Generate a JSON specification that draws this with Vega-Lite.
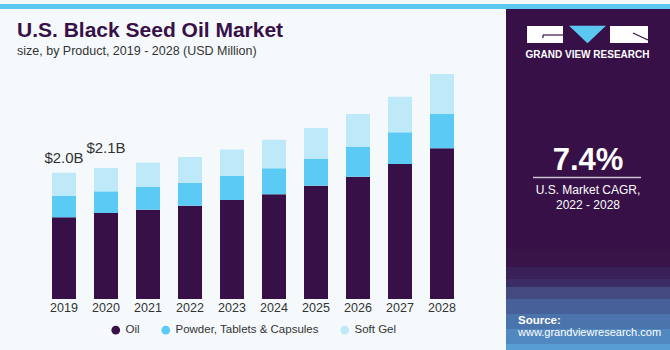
{
  "$schema": "https://vega.github.io/schema/vega-lite/v6.json",
  "background": "#f5f9fc",
  "padding": 0,
  "autosize": {"type": "pad"},
  "bounds": "flush",
  "spacing": 0,
  "resolve": {"scale": {"color": "independent"}, "legend": {"color": "independent"}},
  "config": {"view": {"stroke": null}, "font": "Liberation Sans", "legend": {"layout": {"bottom": {"anchor": "middle"}}}},
  "datasets": {
    "market": [
      {"year": "2019", "product": "Oil", "value": 1293},
      {"year": "2019", "product": "Powder, Tablets & Capsules", "value": 337},
      {"year": "2019", "product": "Soft Gel", "value": 369},
      {"year": "2020", "product": "Oil", "value": 1361},
      {"year": "2020", "product": "Powder, Tablets & Capsules", "value": 343},
      {"year": "2020", "product": "Soft Gel", "value": 369},
      {"year": "2021", "product": "Oil", "value": 1414},
      {"year": "2021", "product": "Powder, Tablets & Capsules", "value": 364},
      {"year": "2021", "product": "Soft Gel", "value": 380},
      {"year": "2022", "product": "Oil", "value": 1477},
      {"year": "2022", "product": "Powder, Tablets & Capsules", "value": 364},
      {"year": "2022", "product": "Soft Gel", "value": 407},
      {"year": "2023", "product": "Oil", "value": 1567},
      {"year": "2023", "product": "Powder, Tablets & Capsules", "value": 385},
      {"year": "2023", "product": "Soft Gel", "value": 412},
      {"year": "2024", "product": "Oil", "value": 1657},
      {"year": "2024", "product": "Powder, Tablets & Capsules", "value": 412},
      {"year": "2024", "product": "Soft Gel", "value": 453},
      {"year": "2025", "product": "Oil", "value": 1794},
      {"year": "2025", "product": "Powder, Tablets & Capsules", "value": 427},
      {"year": "2025", "product": "Soft Gel", "value": 486},
      {"year": "2026", "product": "Oil", "value": 1936},
      {"year": "2026", "product": "Powder, Tablets & Capsules", "value": 475},
      {"year": "2026", "product": "Soft Gel", "value": 518},
      {"year": "2027", "product": "Oil", "value": 2137},
      {"year": "2027", "product": "Powder, Tablets & Capsules", "value": 502},
      {"year": "2027", "product": "Soft Gel", "value": 564},
      {"year": "2028", "product": "Oil", "value": 2386},
      {"year": "2028", "product": "Powder, Tablets & Capsules", "value": 543},
      {"year": "2028", "product": "Soft Gel", "value": 633}
    ],
    "totals": [
      {"year": "2019", "total": 1999, "label": "$2.0B"},
      {"year": "2020", "total": 2073, "label": "$2.1B"}
    ]
  },
  "vconcat": [
    {
      "width": 670,
      "height": 5,
      "view": {"fill": "#5bc8f2", "stroke": null},
      "data": {"values": [{}]},
      "mark": {"type": "text", "text": ""},
      "encoding": {}
    },
    {
      "resolve": {"scale": {"color": "independent"}, "legend": {"color": "independent"}},
      "hconcat": [
        {
          "width": 17,
          "height": 5,
          "data": {"values": [{}]},
          "mark": {"type": "text", "text": ""},
          "encoding": {}
        },
        {
          "width": 472,
          "height": 290,
          "title": {
            "text": "U.S. Black Seed Oil Market",
            "subtitle": "size, by Product, 2019 - 2028 (USD Million)",
            "anchor": "start",
            "frame": "group",
            "offset": -48,
            "font": "Liberation Sans",
            "fontSize": 21,
            "fontWeight": "bold",
            "color": "#371047",
            "subtitleFont": "Liberation Sans",
            "subtitleFontSize": 12.5,
            "subtitleColor": "#333333",
            "subtitlePadding": 4
          },
          "layer": [
            {
              "data": {"name": "market"},
              "mark": {"type": "bar"},
              "encoding": {
                "x": {
                  "field": "year", "type": "ordinal",
                  "scale": {"paddingInner": 0.4286, "paddingOuter": 0.8333},
                  "axis": {"title": null, "labelAngle": 0, "domain": false, "ticks": false, "labelFontSize": 12.5, "labelColor": "#333333", "labelPadding": 2, "labelFont": "Liberation Sans"}
                },
                "y": {
                  "field": "value", "type": "quantitative", "stack": "zero",
                  "scale": {"domain": [0, 4590], "nice": false},
                  "axis": null
                },
                "order": {"field": "product", "type": "nominal", "sort": "ascending"},
                "color": {
                  "field": "product", "type": "nominal",
                  "scale": {"domain": ["Oil", "Powder, Tablets & Capsules", "Soft Gel"], "range": ["#371047", "#5bcbf5", "#bde9f9"]},
                  "legend": {"title": null, "orient": "bottom", "direction": "horizontal", "symbolType": "circle", "symbolSize": 75, "symbolStrokeWidth": 0, "labelFontSize": 11.5, "labelColor": "#333333", "labelFont": "Liberation Sans", "columnPadding": 20, "offset": 10}
                }
              }
            },
            {
              "data": {"name": "totals"},
              "transform": [{"filter": "datum.year == '2019'"}],
              "mark": {"type": "text", "baseline": "alphabetic", "dy": -10, "fontSize": 15, "color": "#333333", "font": "Liberation Sans"},
              "encoding": {
                "x": {"field": "year", "type": "ordinal"},
                "y": {"field": "total", "type": "quantitative"},
                "text": {"field": "label"}
              }
            },
            {
              "data": {"name": "totals"},
              "transform": [{"filter": "datum.year == '2020'"}],
              "mark": {"type": "text", "baseline": "alphabetic", "dy": -15, "fontSize": 15, "color": "#333333", "font": "Liberation Sans"},
              "encoding": {
                "x": {"field": "year", "type": "ordinal"},
                "y": {"field": "total", "type": "quantitative"},
                "text": {"field": "label"}
              }
            }
          ]
        },
        {
          "width": 17,
          "height": 5,
          "data": {"values": [{}]},
          "mark": {"type": "text", "text": ""},
          "encoding": {}
        },
        {
          "width": 164,
          "height": 345,
          "view": {"fill": "#371047", "stroke": null},
          "data": {"values": [{}]},
          "layer": [
            {
              "mark": {"type": "rect", "color": "#381448", "opacity": 1},
              "encoding": {
                "x": {"datum": 0, "type": "quantitative", "scale": {"domain": [0, 164], "nice": false, "zero": false}, "axis": null},
                "x2": {"datum": 164},
                "y": {"datum": 240, "type": "quantitative", "scale": {"domain": [0, 345], "nice": false, "zero": false, "reverse": true}, "axis": null},
                "y2": {"datum": 258}
              }
            },
            {
              "mark": {"type": "rect", "color": "#3a2058", "opacity": 1},
              "encoding": {"x": {"datum": 0, "type": "quantitative"}, "x2": {"datum": 164}, "y": {"datum": 258, "type": "quantitative"}, "y2": {"datum": 270}}
            },
            {
              "mark": {"type": "rect", "color": "#3c2c66", "opacity": 1},
              "encoding": {"x": {"datum": 0, "type": "quantitative"}, "x2": {"datum": 164}, "y": {"datum": 270, "type": "quantitative"}, "y2": {"datum": 278}}
            },
            {
              "mark": {"type": "rect", "color": "#424a80", "opacity": 1},
              "encoding": {"x": {"datum": 0, "type": "quantitative"}, "x2": {"datum": 164}, "y": {"datum": 278, "type": "quantitative"}, "y2": {"datum": 290}}
            },
            {
              "mark": {"type": "rect", "color": "#47609a", "opacity": 1},
              "encoding": {"x": {"datum": 0, "type": "quantitative"}, "x2": {"datum": 164}, "y": {"datum": 290, "type": "quantitative"}, "y2": {"datum": 305}}
            },
            {
              "mark": {"type": "rect", "color": "#4c74ac", "opacity": 1},
              "encoding": {"x": {"datum": 0, "type": "quantitative"}, "x2": {"datum": 164}, "y": {"datum": 305, "type": "quantitative"}, "y2": {"datum": 320}}
            },
            {
              "mark": {"type": "rect", "color": "#5288c0", "opacity": 1},
              "encoding": {"x": {"datum": 0, "type": "quantitative"}, "x2": {"datum": 164}, "y": {"datum": 320, "type": "quantitative"}, "y2": {"datum": 335}}
            },
            {
              "mark": {"type": "rect", "color": "#589dd4", "opacity": 1},
              "encoding": {"x": {"datum": 0, "type": "quantitative"}, "x2": {"datum": 164}, "y": {"datum": 335, "type": "quantitative"}, "y2": {"datum": 345}}
            },
            {
              "mark": {"type": "rect", "color": "#ffffff"},
              "encoding": {
                "x": {"datum": 21, "type": "quantitative"}, "x2": {"datum": 57},
                "y": {"datum": 17, "type": "quantitative"}, "y2": {"datum": 34}
              }
            },
            {
              "mark": {"type": "rect", "color": "#ffffff"},
              "encoding": {
                "x": {"datum": 104, "type": "quantitative"}, "x2": {"datum": 142},
                "y": {"datum": 17, "type": "quantitative"}, "y2": {"datum": 34}
              }
            },
            {
              "mark": {"type": "point", "shape": "M-1,-0.47L1,-0.47L0,0.47Z", "filled": true, "color": "#5bc8f2", "opacity": 1, "size": 1369},
              "encoding": {
                "x": {"datum": 81.5, "type": "quantitative"},
                "y": {"datum": 25.5, "type": "quantitative"}
              }
            },
            {
              "mark": {"type": "rule", "color": "#371047", "strokeWidth": 1.2},
              "encoding": {
                "x": {"datum": 37, "type": "quantitative"}, "x2": {"datum": 57},
                "y": {"datum": 26, "type": "quantitative"}, "y2": {"datum": 26}
              }
            },
            {
              "mark": {"type": "rule", "color": "#371047", "strokeWidth": 1.2},
              "encoding": {
                "x": {"datum": 37, "type": "quantitative"}, "x2": {"datum": 37},
                "y": {"datum": 26, "type": "quantitative"}, "y2": {"datum": 29}
              }
            },
            {
              "mark": {"type": "rule", "color": "#371047", "strokeWidth": 1.2},
              "encoding": {
                "x": {"datum": 127, "type": "quantitative"}, "x2": {"datum": 142},
                "y": {"datum": 24, "type": "quantitative"}, "y2": {"datum": 31}
              }
            },
            {
              "mark": {"type": "text", "text": "GRAND VIEW RESEARCH", "color": "#ffffff", "fontSize": 10, "fontWeight": "bold", "baseline": "middle", "align": "center", "font": "Liberation Sans"},
              "encoding": {
                "x": {"datum": 81.5, "type": "quantitative"},
                "y": {"datum": 46, "type": "quantitative"}
              }
            },
            {
              "mark": {"type": "text", "text": "7.4%", "color": "#ffffff", "fontSize": 31, "fontWeight": "bold", "baseline": "alphabetic", "align": "center", "font": "Liberation Sans"},
              "encoding": {
                "x": {"datum": 82, "type": "quantitative"},
                "y": {"datum": 161, "type": "quantitative"}
              }
            },
            {
              "mark": {"type": "rule", "color": "#c9c2d2", "strokeWidth": 1.5},
              "encoding": {
                "x": {"datum": 27, "type": "quantitative"}, "x2": {"datum": 135},
                "y": {"datum": 168.5, "type": "quantitative"}, "y2": {"datum": 168.5}
              }
            },
            {
              "mark": {"type": "text", "text": "U.S. Market CAGR,", "color": "#ffffff", "fontSize": 12, "baseline": "alphabetic", "align": "center", "font": "Liberation Sans"},
              "encoding": {
                "x": {"datum": 82, "type": "quantitative"},
                "y": {"datum": 184.5, "type": "quantitative"}
              }
            },
            {
              "mark": {"type": "text", "text": "2022 - 2028", "color": "#ffffff", "fontSize": 12, "baseline": "alphabetic", "align": "center", "font": "Liberation Sans"},
              "encoding": {
                "x": {"datum": 82, "type": "quantitative"},
                "y": {"datum": 199.5, "type": "quantitative"}
              }
            },
            {
              "mark": {"type": "text", "text": "Source:", "color": "#ffffff", "fontSize": 11.5, "fontWeight": "bold", "baseline": "alphabetic", "align": "left", "font": "Liberation Sans"},
              "encoding": {
                "x": {"datum": 12, "type": "quantitative"},
                "y": {"datum": 315, "type": "quantitative"}
              }
            },
            {
              "mark": {"type": "text", "text": "www.grandviewresearch.com", "color": "#ffffff", "fontSize": 11, "baseline": "alphabetic", "align": "left", "font": "Liberation Sans"},
              "encoding": {
                "x": {"datum": 12, "type": "quantitative"},
                "y": {"datum": 327, "type": "quantitative"}
              }
            }
          ]
        }
      ],
      "spacing": 0,
      "bounds": "flush"
    }
  ]
}
